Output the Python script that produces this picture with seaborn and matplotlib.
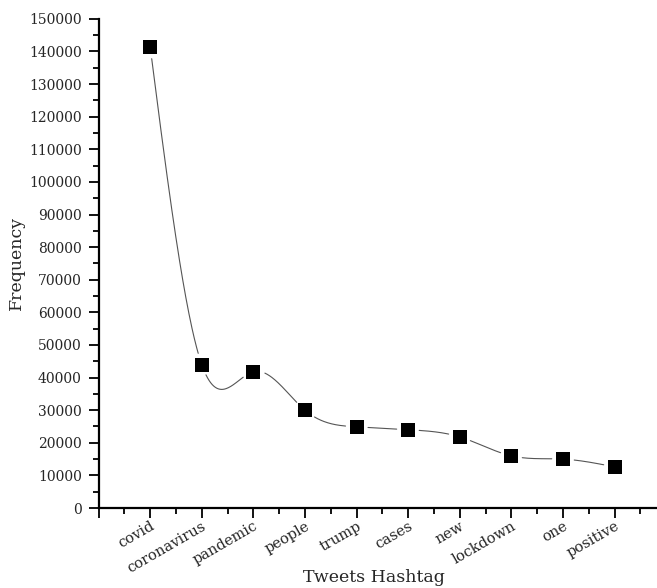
import numpy as np
import matplotlib
matplotlib.use("Agg")
import matplotlib.pyplot as plt
import seaborn as sns

hashtags = ["covid", "coronavirus", "pandemic", "people", "trump",
            "cases", "new", "lockdown", "one", "positive"]
frequency = [141500, 44000, 41800, 30000, 24900, 24000, 21800, 16000, 15000, 12600]
y_ticks = list(range(0, 150001, 10000))


def natural_spline(x, y, n=600):
    """Natural cubic spline through (x, y), evaluated on a dense grid."""
    x = np.asarray(x, float)
    y = np.asarray(y, float)
    k = len(x)
    h = np.diff(x)
    A = np.zeros((k, k))
    b = np.zeros(k)
    A[0, 0] = A[-1, -1] = 1.0
    for i in range(1, k - 1):
        A[i, i - 1] = h[i - 1]
        A[i, i] = 2 * (h[i - 1] + h[i])
        A[i, i + 1] = h[i]
        b[i] = 6 * ((y[i + 1] - y[i]) / h[i] - (y[i] - y[i - 1]) / h[i - 1])
    m = np.linalg.solve(A, b)
    xs = np.linspace(x[0], x[-1], n)
    idx = np.clip(np.searchsorted(x, xs) - 1, 0, k - 2)
    x0, x1 = x[idx], x[idx + 1]
    hh = x1 - x0
    t0, t1 = x1 - xs, xs - x0
    ys = (m[idx] * t0 ** 3 / (6 * hh) + m[idx + 1] * t1 ** 3 / (6 * hh)
          + (y[idx] / hh - m[idx] * hh / 6) * t0
          + (y[idx + 1] / hh - m[idx + 1] * hh / 6) * t1)
    return xs, ys


sns.set_style("ticks")
plt.rcParams["font.family"] = ["DejaVu Serif"]

fig = plt.figure(figsize=(6.57, 5.88), dpi=100)
ax = fig.add_axes([0.150, 0.136, 0.86, 0.832])

pos = np.arange(1, len(hashtags) + 1)
ax.set_xlim(0, 10.95)
ax.set_ylim(0, 150000)

# smooth connecting curve, broken around each symbol
xs, ys = natural_spline(pos, frequency)
disp = ax.transData.transform(np.column_stack([xs, ys]))
pts = ax.transData.transform(np.column_stack([pos, frequency]))
mask = np.zeros(len(xs), bool)
for p in pts:
    mask |= np.hypot(disp[:, 0] - p[0], disp[:, 1] - p[1]) < 11
ys_gap = ys.copy()
ys_gap[mask] = np.nan
ax.plot(xs, ys_gap, color="#555555", lw=0.8, zorder=2)

sns.scatterplot(x=pos, y=frequency, marker="s", s=95, color="black",
                edgecolor="black", linewidth=0, ax=ax, zorder=3, legend=False)

ax.set_xticks([0] + list(pos))
ax.set_xticks(np.arange(0.5, 11, 1.0), minor=True)
ax.set_xticklabels([""] + hashtags, rotation=30, ha="right", va="top",
                   rotation_mode="anchor", fontsize=10.5)
ax.set_yticks(y_ticks)
ax.set_yticks(np.arange(5000, 150000, 10000), minor=True)
ax.set_yticklabels([str(v) for v in y_ticks], fontsize=10)

ax.tick_params(axis="both", which="major", direction="out", length=7,
               width=1.3, color="black")
ax.tick_params(axis="both", which="minor", direction="out", length=4,
               width=1.3, color="black")
ax.tick_params(axis="x", pad=1)
ax.tick_params(axis="y", pad=5)

for s in ["top", "right"]:
    ax.spines[s].set_visible(False)
for s in ["left", "bottom"]:
    ax.spines[s].set_linewidth(1.6)
    ax.spines[s].set_color("black")

ax.set_xlabel("Tweets Hashtag", fontsize=12.5)
ax.xaxis.set_label_coords(0.488, -0.124)
ax.set_ylabel("Frequency", fontsize=12.5, labelpad=3)

fig.savefig("out.png", dpi=100)
